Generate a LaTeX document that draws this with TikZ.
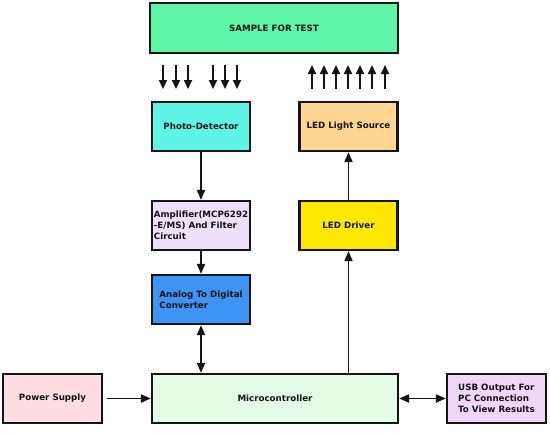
\documentclass[tikz,border=0pt]{standalone}
\usepackage{fontspec}
\setmainfont{DejaVu Sans}
\usetikzlibrary{arrows.meta}
\definecolor{cSample}{HTML}{5DF5A8}
\definecolor{cPD}{HTML}{5EF5E6}
\definecolor{cLLS}{HTML}{FFD591}
\definecolor{cAmp}{HTML}{EEE0FB}
\definecolor{cDrv}{HTML}{FFE800}
\definecolor{cADC}{HTML}{3D94F5}
\definecolor{cMCU}{HTML}{E2FCE6}
\definecolor{cPow}{HTML}{FFDDE2}
\definecolor{cUSB}{HTML}{F0D6FA}
\definecolor{cLine}{HTML}{141414}
\begin{document}
\begin{tikzpicture}[x=1pt,y=-1pt,
  blk/.style={draw=cLine, line width=2.2pt, minimum width=98pt, minimum height=49pt,
    inner sep=0pt, align=left, font=\fontsize{8.7}{11}\selectfont\bfseries, text=cLine},
  conn/.style={draw=cLine, line width=1.9pt, -{Triangle[length=10pt,width=8pt]}},
  biconn/.style={draw=cLine, line width=1.9pt, {Triangle[length=10pt,width=8pt]}-{Triangle[length=10pt,width=8pt]}},
  small/.style={draw=cLine, line width=1.9pt, -{Triangle[length=9pt,width=8pt]}}]
\useasboundingbox[fill=white] (0,0) rectangle (550,432);
\node[blk, fill=cSample, minimum width=248pt, minimum height=50pt] (sample) at (274,28) {SAMPLE FOR TEST};
\node[blk, fill=cPD] (pd) at (201,126.5) {Photo-Detector};
\node[blk, fill=cLLS] (lls) at (348.5,126.5) {LED Light Source};
\node[blk, fill=cAmp] (amp) at (201,225.5) {Amplifier(MCP6292\\-E/MS) And Filter\\Circuit};
\node[blk, fill=cDrv] (drv) at (348.5,225.5) {LED Driver};
\node[blk, fill=cADC] (adc) at (201,299.5) {Analog To Digital\\Converter};
\node[blk, fill=cMCU, minimum width=246pt] (mcu) at (275,398.5) {Microcontroller};
\node[blk, fill=cPow, minimum width=99pt] (pow) at (52.5,398.5) {Power Supply};
\node[blk, fill=cUSB, minimum width=99pt] (usb) at (496.5,398.5) {USB Output For\\PC Connection\\To View Results};
% connectors
\draw[conn] (pd.south) -- (amp.north);
\draw[conn] (amp.south) -- (adc.north);
\draw[biconn] (adc.south) -- (adc.south |- mcu.north);
\draw[conn] (drv.south |- mcu.north) -- (drv.south);
\draw[conn] (drv.north) -- (lls.south);
\draw[conn, shorten <=4pt] (pow.east) -- (mcu.west);
\draw[biconn] (mcu.east) -- (usb.west);
% light arrows
\foreach \x [count=\i] in {163,176,188,213,225,237} {
  \coordinate (dA\i) at (\x,65); \coordinate (dB\i) at (\x,89);
  \draw[small] (dA\i) -- (dB\i);
}
\foreach \x [count=\i] in {312,324,336,348,360,372,385} {
  \coordinate (uA\i) at (\x,89); \coordinate (uB\i) at (\x,65);
  \draw[small] (uA\i) -- (uB\i);
}
\end{tikzpicture}
\end{document}
